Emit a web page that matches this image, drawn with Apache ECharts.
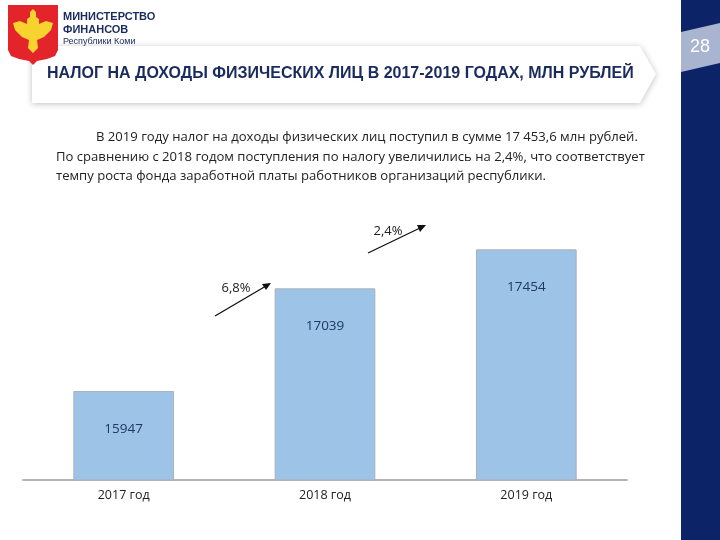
<!DOCTYPE html>
<html>
<head>
<meta charset="utf-8">
<script src="https://cdn.jsdelivr.net/npm/echarts@6/dist/echarts.min.js"></script>
<style>
html,body{margin:0;padding:0;background:#fff;}
#chart{width:720px;height:540px;}
</style>
</head>
<body>
<div id="chart"></div>
<script>
const categories = ['2017 год', '2018 год', '2019 год'];
const values = [15947, 17039, 17454];
const growthLabels = ['6,8%', '2,4%'];
const titleText = 'НАЛОГ НА ДОХОДЫ ФИЗИЧЕСКИХ ЛИЦ В 2017-2019 ГОДАХ, МЛН РУБЛЕЙ';
const paragraph = [
  'В 2019 году налог на доходы физических лиц поступил в сумме 17 453,6 млн рублей.',
  'По сравнению с 2018 годом поступления по налогу увеличились на 2,4%, что соответствует',
  'темпу роста фонда заработной платы работников организаций республики.'
];
const pageNumber = '28';

const chart = echarts.init(document.getElementById('chart'), null, {renderer: 'canvas'});
const navy = '#0c2368';
const bodyFont = '"Open Sans", "Noto Sans", sans-serif';

const option = {
  animation: false,
  backgroundColor: '#fff',
  grid: {left: 23, right: 93, top: 198, bottom: 60, containLabel: false},
  xAxis: {
    type: 'category',
    data: categories,
    axisLine: {show: true, lineStyle: {color: '#b4b4b4', width: 2}},
    axisTick: {show: false},
    axisLabel: {color: '#222', fontFamily: bodyFont, fontSize: 12.5, margin: 9}
  },
  yAxis: {
    type: 'value', min: 15000, max: 18000, interval: 1000,
    show: false, splitLine: {show: false}
  },
  series: [{
    type: 'bar',
    data: values,
    barWidth: '50%',
    itemStyle: {color: '#9dc3e6', borderColor: '#a9b1bb', borderWidth: 1},
    label: {
      show: true, position: 'insideTop', distance: 31,
      color: '#1f3864', fontFamily: bodyFont, fontSize: 13.5
    }
  }],
  graphic: [
    // right sidebar
    {type: 'rect', shape: {x: 681, y: 0, width: 39, height: 540}, style: {fill: navy}, z: 10},
    {type: 'polygon', shape: {points: [[681, 32], [720, 23], [720, 63], [681, 72]]}, style: {fill: '#a9b4d0'}, z: 11},
    {type: 'text', style: {x: 700, y: 47, text: pageNumber, fill: '#fff', font: '18px "Liberation Sans", Arial, sans-serif', align: 'center', verticalAlign: 'middle'}, z: 12},
    // banner
    {type: 'polygon', shape: {points: [[32, 46], [640, 46], [656, 74], [640, 103], [32, 103]]},
     style: {fill: '#fff', shadowBlur: 6, shadowColor: 'rgba(0,0,0,0.25)', shadowOffsetX: 0, shadowOffsetY: 1}, z: 5},
    {type: 'text', style: {x: 47, y: 74, text: titleText, fill: '#1a2b5e', font: 'bold 16px "Liberation Sans", Arial, sans-serif', verticalAlign: 'middle'}, z: 6},
    // logo shield
    {type: 'polygon', shape: {points: [[8, 5], [58, 5], [58, 50], [55, 56], [47, 59], [37, 61], [33, 65], [29, 61], [19, 59], [11, 56], [8, 50]]}, style: {fill: '#e3242b'}, z: 6},
    {type: 'polygon', shape: {points: [[33, 9], [30, 12], [30, 17], [27, 19], [27, 24], [20, 21], [13, 23], [15, 30], [22, 37], [29, 40], [28, 48], [33, 53], [38, 48], [37, 40], [44, 37], [51, 30], [53, 23], [46, 21], [39, 24], [39, 19], [36, 17], [36, 12]]}, style: {fill: '#f7d330'}, z: 7},
    // ministry text
    {type: 'text', style: {x: 63, y: 17, text: 'МИНИСТЕРСТВО', fill: '#1a2b5e', font: 'bold 11px "Liberation Sans", Arial, sans-serif', verticalAlign: 'middle'}, z: 6},
    {type: 'text', style: {x: 63, y: 30, text: 'ФИНАНСОВ', fill: '#1a2b5e', font: 'bold 11px "Liberation Sans", Arial, sans-serif', verticalAlign: 'middle'}, z: 6},
    {type: 'text', style: {x: 63, y: 42, text: 'Республики Коми', fill: '#1a2b5e', font: '9px "Liberation Sans", Arial, sans-serif', verticalAlign: 'middle'}, z: 6},
    // paragraph
    {type: 'text', style: {x: 96, y: 137, text: paragraph[0], fill: '#222', font: '13.1px ' + bodyFont, verticalAlign: 'middle'}},
    {type: 'text', style: {x: 56, y: 157, text: paragraph[1], fill: '#222', font: '13.1px ' + bodyFont, verticalAlign: 'middle'}},
    {type: 'text', style: {x: 56, y: 176, text: paragraph[2], fill: '#222', font: '13.1px ' + bodyFont, verticalAlign: 'middle'}},
    // growth arrows
    {type: 'line', shape: {x1: 215, y1: 316, x2: 266, y2: 286}, style: {stroke: '#111', lineWidth: 1.3}},
    {type: 'polygon', shape: {points: [[271, 283], [262, 284], [266, 290]]}, style: {fill: '#111'}},
    {type: 'line', shape: {x1: 368, y1: 253, x2: 420, y2: 228}, style: {stroke: '#111', lineWidth: 1.3}},
    {type: 'polygon', shape: {points: [[426, 225], [417, 225], [420, 232]]}, style: {fill: '#111'}},
    {type: 'text', style: {x: 236, y: 288, text: growthLabels[0], fill: '#222', font: '13px ' + bodyFont, align: 'center', verticalAlign: 'middle'}},
    {type: 'text', style: {x: 388, y: 231, text: growthLabels[1], fill: '#222', font: '13px ' + bodyFont, align: 'center', verticalAlign: 'middle'}}
  ]
};
chart.setOption(option);
</script>
</body>
</html>
